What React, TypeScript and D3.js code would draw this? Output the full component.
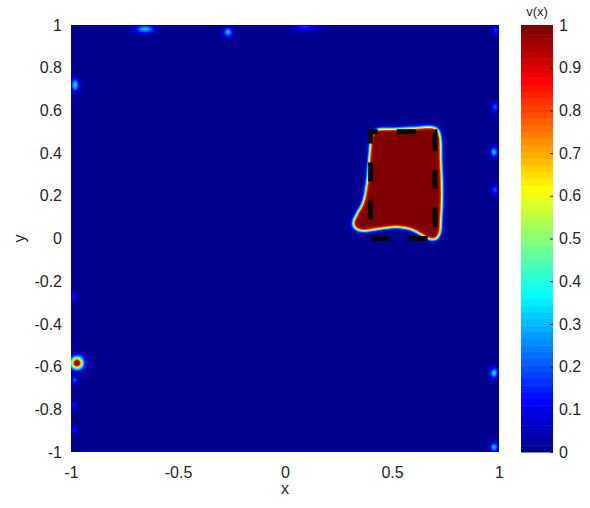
import { useEffect, useRef } from 'react';
import * as d3 from 'd3';

// axis ticks
const xTicks = [-1, -0.5, 0, 0.5, 1];
const xTickLabels = ['-1', '-0.5', '0', '0.5', '1'];
const yTicks = [-1, -0.8, -0.6, -0.4, -0.2, 0, 0.2, 0.4, 0.6, 0.8, 1];
const yTickLabels = ['-1', '-0.8', '-0.6', '-0.4', '-0.2', '0', '0.2', '0.4', '0.6', '0.8', '1'];
const cbTicks = [0, 0.1, 0.2, 0.3, 0.4, 0.5, 0.6, 0.7, 0.8, 0.9, 1];
const cbTickLabels = ['0', '0.1', '0.2', '0.3', '0.4', '0.5', '0.6', '0.7', '0.8', '0.9', '1'];

// outline of the region where v(x) ~ 1
const blobX = [0.407, 0.425, 0.514, 0.607, 0.678, 0.71, 0.724, 0.729, 0.734, 0.729, 0.724, 0.706, 0.673, 0.631,
    0.584, 0.523, 0.467, 0.407, 0.36, 0.327, 0.318, 0.336, 0.364, 0.383, 0.393, 0.402];
const blobY = [0.485, 0.508, 0.513, 0.518, 0.522, 0.513, 0.485, 0.368, 0.204, 0.087, 0.026, -0.002, -0.002, 0.021,
    0.044, 0.054, 0.049, 0.04, 0.035, 0.049, 0.073, 0.115, 0.166, 0.26, 0.368, 0.461];

// small bumps near the border
const spotX = [-0.654, -0.266, 0.093, -0.981, -0.972, -0.983, -0.985, -0.985, -0.987, 0.981, 0.977, 0.981, 0.977, 0.977, 0.985];
const spotY = [0.981, 0.967, 0.99, 0.719, -0.583, -0.663, -0.78, -0.897, -0.274, 0.616, 0.405, 0.227, -0.63, -0.977, 0.977];
const spotPeak = [0.3, 0.3, 0.14, 0.32, 1.05, 0.18, 0.13, 0.12, 0.12, 0.2, 0.3, 0.18, 0.32, 0.3, 0.15];
const spotSx = [0.03, 0.014, 0.04, 0.012, 0.019, 0.01, 0.01, 0.01, 0.01, 0.01, 0.012, 0.01, 0.012, 0.012, 0.01];
const spotSy = [0.012, 0.014, 0.012, 0.02, 0.019, 0.012, 0.012, 0.012, 0.012, 0.015, 0.016, 0.014, 0.016, 0.014, 0.014];

// dashed reference box
const boxX = [0.4, 0.7];
const boxY = [0, 0.5];
const background = 0.012;

const levels = 64;
const font = "'Liberation Sans', Arial, sans-serif";
const textColor = '#262626';

const clamp = (v: number) => Math.max(0, Math.min(1, v));
function jet(v: number): [number, number, number] {
    return [
        clamp(Math.min(4 * v - 1.5, -4 * v + 4.5)),
        clamp(Math.min(4 * v - 0.5, -4 * v + 3.5)),
        clamp(Math.min(4 * v + 0.5, -4 * v + 2.5))
    ];
}
const levelColor = (k: number) => jet((k + 1) / levels);
const levelOf = (v: number) => Math.min(levels - 1, Math.max(0, Math.floor(v * levels)));

function blur(src: Float32Array, w: number, h: number, s: number) {
    const r = Math.ceil(s * 3);
    const k = d3.range(-r, r + 1).map((i) => Math.exp((-i * i) / (2 * s * s)));
    const ks = d3.sum(k);
    const tmp = new Float32Array(w * h);
    const out = new Float32Array(w * h);
    for (let j = 0; j < h; j++) {
        for (let i = 0; i < w; i++) {
            let a = 0;
            for (let t = -r; t <= r; t++) {
                const ii = Math.min(w - 1, Math.max(0, i + t));
                a += src[j * w + ii] * k[t + r];
            }
            tmp[j * w + i] = a / ks;
        }
    }
    for (let j = 0; j < h; j++) {
        for (let i = 0; i < w; i++) {
            let a = 0;
            for (let t = -r; t <= r; t++) {
                const jj = Math.min(h - 1, Math.max(0, j + t));
                a += tmp[jj * w + i] * k[t + r];
            }
            out[j * w + i] = a / ks;
        }
    }
    return out;
}

export default function App() {
    const ref = useRef<SVGSVGElement>(null);

    useEffect(() => {
        const svg = d3.select(ref.current);
        svg.selectAll('*').remove();

        const [l, r, t, b] = [71, 499, 25, 452];
        const W = r - l;
        const H = b - t;
        const x = d3.scaleLinear().domain([-1, 1]).range([l, r]);
        const y = d3.scaleLinear().domain([-1, 1]).range([b, t]);

        // field v(x)
        const canvas = document.createElement('canvas');
        canvas.width = W;
        canvas.height = H;
        const ctx = canvas.getContext('2d')!;
        const pts: [number, number][] = blobX.map((d, i) => [d, blobY[i]]);
        const line = d3
            .line<[number, number]>()
            .x((d) => x(d[0]) - l)
            .y((d) => y(d[1]) - t)
            .curve(d3.curveCatmullRomClosed.alpha(0.5))
            .context(ctx);
        ctx.fillStyle = '#000';
        ctx.beginPath();
        line(pts);
        ctx.fill();
        const mask = ctx.getImageData(0, 0, W, H).data;
        const raw = new Float32Array(W * H);
        for (let p = 0; p < W * H; p++) raw[p] = mask[p * 4 + 3] / 255;
        const blob = blur(raw, W, H, 1.8);

        const img = ctx.createImageData(W, H);
        for (let j = 0; j < H; j++) {
            const dy = y.invert(t + j + 0.5);
            for (let i = 0; i < W; i++) {
                const dx = x.invert(l + i + 0.5);
                let v = background + blob[j * W + i];
                for (let s = 0; s < spotX.length; s++) {
                    const ux = (dx - spotX[s]) / spotSx[s];
                    const uy = (dy - spotY[s]) / spotSy[s];
                    v += spotPeak[s] * Math.exp(-0.5 * (ux * ux + uy * uy));
                }
                const c = levelColor(levelOf(v));
                const p = (j * W + i) * 4;
                img.data[p] = Math.round(c[0] * 255);
                img.data[p + 1] = Math.round(c[1] * 255);
                img.data[p + 2] = Math.round(c[2] * 255);
                img.data[p + 3] = 255;
            }
        }
        ctx.putImageData(img, 0, 0);

        svg.append('image')
            .attr('href', canvas.toDataURL())
            .attr('x', l)
            .attr('y', t)
            .attr('width', W)
            .attr('height', H)
            .attr('preserveAspectRatio', 'none');

        // dashed box
        const boxPts: [number, number][] = [
            [boxX[0], boxY[0]],
            [boxX[1], boxY[0]],
            [boxX[1], boxY[1]],
            [boxX[0], boxY[1]]
        ];
        svg.append('path')
            .attr('d', d3.line<[number, number]>().x((d) => x(d[0])).y((d) => y(d[1])).curve(d3.curveLinearClosed)(boxPts))
            .attr('fill', 'none')
            .attr('stroke', '#000')
            .attr('stroke-width', 5)
            .attr('stroke-dasharray', '19 19');

        // axes
        const styleAxis = (g: d3.Selection<SVGGElement, unknown, null, undefined>) => {
            g.select('.domain').remove();
            g.selectAll('text').attr('fill', textColor).style('font-family', font).style('font-size', '16px');
        };
        svg.append('g')
            .attr('transform', `translate(0,${b})`)
            .call(
                d3.axisBottom(x).tickValues(xTicks).tickFormat((_d, i) => xTickLabels[i]).tickSize(0).tickPadding(15)
            )
            .call(styleAxis);
        svg.append('g')
            .attr('transform', `translate(${l},0)`)
            .call(d3.axisLeft(y).tickValues(yTicks).tickFormat((_d, i) => yTickLabels[i]).tickSize(0).tickPadding(9))
            .call(styleAxis);

        svg.append('text')
            .attr('x', x(0))
            .attr('y', 494)
            .attr('text-anchor', 'middle')
            .attr('fill', textColor)
            .style('font-family', font)
            .style('font-size', '16px')
            .text('x');
        svg.append('text')
            .attr('transform', `translate(25,${(t + b) / 2}) rotate(-90)`)
            .attr('text-anchor', 'middle')
            .attr('fill', textColor)
            .style('font-family', font)
            .style('font-size', '16px')
            .text('y');

        // colorbar
        const [cl, cr] = [521, 553];
        const cy = d3.scaleLinear().domain([0, 1]).range([b, t]);
        svg.append('g')
            .selectAll('rect')
            .data(d3.range(levels))
            .join('rect')
            .attr('x', cl)
            .attr('width', cr - cl)
            .attr('y', (k) => cy((k + 1) / levels))
            .attr('height', (k) => cy(k / levels) - cy((k + 1) / levels) + 0.5)
            .attr('fill', (k) => {
                const c = levelColor(k);
                return d3.rgb(c[0] * 255, c[1] * 255, c[2] * 255).toString();
            });
        svg.append('g')
            .attr('transform', `translate(${cr},0)`)
            .call(d3.axisRight(cy).tickValues(cbTicks).tickFormat((_d, i) => cbTickLabels[i]).tickSize(-3).tickPadding(6))
            .call(styleAxis)
            .call((g) => g.selectAll('.tick line').attr('stroke', textColor));
        svg.append('text')
            .attr('x', 537)
            .attr('y', 16)
            .attr('text-anchor', 'middle')
            .attr('fill', textColor)
            .style('font-family', font)
            .style('font-size', '13px')
            .text('v(x)');
    }, []);

    return (
        <svg
            ref={ref}
            width={590}
            height={508}
            style={{ position: 'absolute', left: 0, top: 0, background: '#fff' }}
        />
    );
}
